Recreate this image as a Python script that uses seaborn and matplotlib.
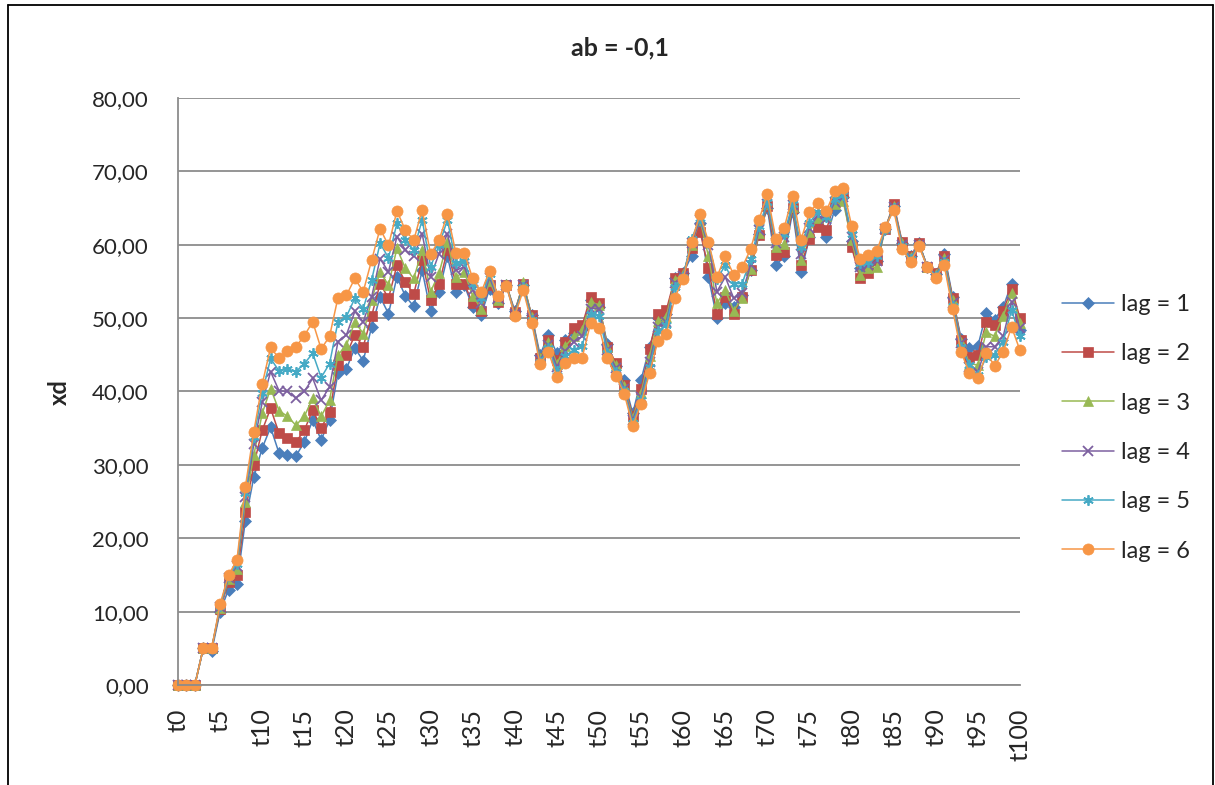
import numpy as np
import pandas as pd
import matplotlib
matplotlib.use("Agg")
import matplotlib.pyplot as plt
import seaborn as sns
from matplotlib.lines import Line2D

steps = np.arange(101)
step_labels = [f"t{i}" for i in steps]
lag_names = ["lag = 1", "lag = 2", "lag = 3", "lag = 4", "lag = 5", "lag = 6"]

lag1 = [0, 0, 0, 5.0, 4.6, 10.0, 13.0, 13.8, 22.4, 28.3,
        32.3, 35.1, 31.6, 31.4, 31.2, 33.1, 36.1, 33.4, 36.1, 42.5,
        43.1, 45.9, 44.2, 48.8, 52.9, 50.6, 55.6, 53.0, 51.6, 56.5,
        50.9, 53.6, 58.4, 53.5, 54.5, 51.5, 50.4, 54.0, 52.0, 54.5,
        51.0, 54.5, 50.4, 45.0, 47.7, 45.2, 47.0, 48.0, 48.5, 52.5,
        51.5, 46.5, 43.5, 41.5, 37.0, 41.6, 46.0, 50.0, 50.5, 55.4,
        56.1, 58.5, 63.0, 55.6, 50.0, 52.0, 51.5, 53.2, 56.6, 61.5,
        65.0, 57.2, 58.4, 64.5, 56.3, 61.0, 62.7, 61.0, 64.8, 66.5,
        60.5, 56.8, 57.0, 57.8, 62.2, 65.3, 60.2, 58.4, 60.2, 57.0,
        56.0, 58.8, 52.9, 47.2, 45.9, 46.2, 50.7, 49.8, 51.5, 54.7,
        48.4]
lag2 = [0, 0, 0, 5.0, 5.0, 10.3, 14.0, 15.0, 23.6, 30.0,
        34.7, 37.7, 34.3, 33.6, 33.1, 34.7, 37.5, 35.0, 37.2, 43.6,
        45.0, 47.7, 46.1, 50.3, 54.7, 52.7, 57.2, 54.9, 53.3, 57.9,
        52.4, 54.6, 59.3, 54.7, 54.7, 52.0, 50.9, 54.5, 52.2, 54.5,
        50.8, 54.7, 50.4, 44.5, 47.0, 44.3, 46.8, 48.6, 49.0, 52.9,
        52.0, 46.1, 43.9, 40.9, 36.7, 40.4, 45.8, 50.6, 51.1, 55.4,
        56.1, 59.5, 61.8, 56.8, 50.6, 52.9, 50.6, 52.9, 56.5, 61.3,
        65.3, 58.6, 59.0, 65.0, 57.2, 60.8, 62.4, 62.0, 65.8, 67.0,
        59.7, 55.4, 56.1, 57.9, 62.2, 65.6, 60.4, 58.4, 60.2, 57.0,
        56.1, 58.4, 52.7, 47.0, 44.7, 45.0, 49.5, 49.0, 51.0, 54.0,
        50.0]
lag3 = [0, 0, 0, 5.0, 5.0, 10.5, 14.4, 15.8, 25.0, 31.3,
        37.0, 40.4, 37.4, 36.6, 35.4, 36.6, 39.1, 36.6, 38.8, 45.0,
        46.3, 49.5, 47.9, 52.5, 56.3, 54.5, 59.5, 56.8, 55.4, 59.3,
        53.6, 56.1, 60.4, 55.6, 56.3, 53.0, 51.3, 55.0, 52.5, 54.7,
        50.6, 54.9, 50.2, 44.5, 46.8, 43.8, 46.2, 47.5, 48.4, 52.2,
        51.8, 46.0, 43.6, 40.7, 36.4, 39.8, 44.8, 49.6, 50.2, 55.2,
        56.0, 60.0, 63.4, 58.4, 52.0, 53.8, 51.0, 52.8, 56.7, 61.6,
        65.5, 59.7, 60.1, 65.2, 57.9, 61.8, 63.6, 63.9, 65.5, 65.9,
        60.6, 55.9, 56.8, 57.0, 62.3, 65.3, 60.2, 58.3, 60.1, 57.0,
        56.0, 58.2, 52.4, 46.8, 43.8, 43.6, 48.1, 47.5, 50.3, 53.4,
        49.4]
lag4 = [0, 0, 0, 5.0, 5.0, 10.6, 14.6, 16.2, 25.6, 32.8,
        38.5, 42.7, 40.1, 40.0, 39.1, 40.0, 41.8, 38.8, 40.6, 46.8,
        47.7, 50.9, 49.5, 52.9, 58.1, 56.3, 61.1, 59.3, 58.4, 61.5,
        55.6, 58.8, 61.5, 56.5, 57.0, 53.8, 52.0, 55.5, 52.7, 54.5,
        50.5, 54.5, 50.0, 44.3, 46.4, 43.4, 45.5, 46.8, 47.5, 51.3,
        51.3, 45.6, 43.2, 40.4, 36.1, 39.3, 44.0, 48.8, 49.5, 54.8,
        55.8, 60.2, 63.4, 60.0, 53.6, 55.6, 52.7, 53.4, 57.2, 62.0,
        65.6, 60.2, 61.0, 65.4, 58.8, 62.3, 64.0, 63.5, 65.8, 66.5,
        61.0, 56.9, 57.2, 57.8, 62.2, 65.2, 60.0, 58.2, 60.0, 57.0,
        55.9, 57.9, 52.0, 46.6, 43.4, 42.7, 46.1, 46.1, 47.5, 52.2,
        48.6]
lag5 = [0, 0, 0, 5.0, 5.0, 10.8, 14.8, 16.5, 26.2, 33.8,
        39.8, 44.5, 42.8, 43.1, 42.7, 43.8, 45.2, 41.9, 43.8, 49.5,
        50.2, 52.7, 51.3, 55.2, 60.2, 58.2, 62.9, 60.6, 59.3, 63.4,
        57.0, 59.9, 63.4, 57.5, 57.8, 54.6, 52.7, 56.0, 52.9, 54.4,
        50.4, 54.2, 49.7, 44.0, 45.9, 42.8, 44.8, 45.7, 46.2, 50.6,
        50.3, 45.2, 42.7, 40.0, 35.7, 38.8, 43.3, 48.2, 49.0, 54.3,
        55.6, 60.8, 63.6, 60.3, 55.3, 57.2, 54.7, 54.7, 58.0, 62.5,
        65.8, 60.6, 61.5, 65.6, 59.7, 63.0, 64.5, 63.8, 66.2, 66.8,
        61.5, 57.5, 57.6, 58.4, 62.2, 65.0, 59.8, 58.0, 60.0, 56.9,
        55.8, 57.6, 51.7, 46.0, 43.6, 42.2, 44.7, 45.0, 46.8, 51.1,
        47.5]
lag6 = [0, 0, 0, 5.0, 5.0, 11.0, 15.0, 17.0, 27.0, 34.5,
        41.0, 46.0, 44.5, 45.5, 46.1, 47.6, 49.5, 45.8, 47.5, 52.8,
        53.1, 55.4, 53.6, 57.9, 62.2, 59.9, 64.6, 62.0, 60.6, 64.8,
        58.7, 60.6, 64.2, 58.9, 58.9, 55.4, 53.5, 56.4, 53.0, 54.4,
        50.3, 53.8, 49.4, 43.7, 45.4, 42.0, 43.9, 44.6, 44.6, 49.3,
        48.7, 44.5, 42.1, 39.7, 35.3, 38.3, 42.5, 46.9, 47.8, 52.8,
        55.3, 60.4, 64.2, 60.4, 55.6, 58.4, 55.9, 56.9, 59.4, 63.4,
        66.9, 60.8, 62.3, 66.7, 60.7, 64.4, 65.7, 64.6, 67.3, 67.7,
        62.6, 58.1, 58.6, 59.2, 62.4, 64.7, 59.4, 57.7, 59.8, 56.9,
        55.5, 57.2, 51.2, 45.4, 42.5, 41.8, 45.2, 43.5, 45.4, 48.8,
        45.6]

series = [lag1, lag2, lag3, lag4, lag5, lag6]
colors = ["#4A7EBB", "#BE4B48", "#98B954", "#7D60A0", "#46AAC5", "#F79646"]
markers = ["D", "s", "^", "x", (6, 2, 0), "o"]
msizes = [6, 7.5, 7.5, 6.5, 7.5, 8]

df = pd.DataFrame({
    "step": np.tile(steps, len(series)),
    "xd": np.concatenate(series),
    "lag": np.repeat(lag_names, len(steps)),
})

sns.set_style("white")
plt.rcParams["font.family"] = ["Lato", "DejaVu Sans"]

fig = plt.figure(figsize=(12.15, 7.85), dpi=100)
ax = fig.add_axes([0.1465, 0.1274, 0.6930, 0.7478])

sns.lineplot(data=df, x="step", y="xd", hue="lag", hue_order=lag_names,
             palette=colors, linewidth=1.1, legend=False, sort=False, ax=ax)

# seaborn won't mix filled and line markers, so set them per line
for line, m, c, s in zip(ax.lines, markers, colors, msizes):
    line.set_marker(m)
    line.set_markersize(s)
    line.set_markerfacecolor(c)
    line.set_markeredgecolor(c)
    line.set_markeredgewidth(1.3 if m in ("x", (6, 2, 0)) else 0.5)
    line.set_clip_on(False)

ax.set_xlim(0, 100)
ax.set_ylim(0, 80)
ax.set_yticks(np.arange(0, 81, 10))
ax.set_yticklabels([f"{v:.2f}".replace(".", ",") for v in np.arange(0, 81, 10)])
ax.set_xticks(steps[::5])
ax.set_xticklabels(step_labels[::5], rotation=90)
ax.tick_params(axis="y", length=0, pad=21, labelsize=16)
ax.tick_params(axis="x", length=0, pad=17, labelsize=18)

ax.yaxis.grid(True, color="#8C8C8C", linewidth=1.3)
ax.set_axisbelow(True)
sns.despine(ax=ax)
for side in ("left", "bottom"):
    ax.spines[side].set_color("#8C8C8C")
    ax.spines[side].set_linewidth(1.3)

ax.set_xlabel("")
ax.set_ylabel("")
fig.text(0.049, 0.5, "xd", rotation=90, ha="center", va="center",
         fontsize=17, fontweight="bold")
fig.text(0.51, 0.939, "ab = -0,1", ha="center", va="center",
         fontsize=18, fontweight="bold")

ax.legend(handles=ax.lines[:6], labels=lag_names, loc="center left",
          bbox_to_anchor=(0.874, 0.455), bbox_transform=fig.transFigure,
          frameon=False, fontsize=17, handlelength=2.2, handletextpad=0.3,
          labelspacing=1.2, borderpad=0, borderaxespad=0)

# chart border
for xs, ys in (([8 / 1215, 8 / 1215], [0, 1 - 5 / 785]),
               ([8 / 1215, 1213 / 1215], [1 - 5 / 785, 1 - 5 / 785]),
               ([1213 / 1215, 1213 / 1215], [0, 1 - 5 / 785])):
    fig.add_artist(Line2D(xs, ys, transform=fig.transFigure, color="black", lw=1.3))

fig.savefig("out.png", dpi=100)
